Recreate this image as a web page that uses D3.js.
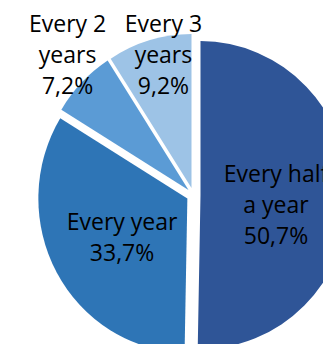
<!DOCTYPE html>
<html>
<head>
<meta charset="utf-8">
<script src="https://d3js.org/d3.v7.min.js"></script>
<style>
  body { margin: 0; background: #fff; overflow: hidden; }
  svg { display: block; }
</style>
</head>
<body>
<script>
// Values as printed on the chart
const categories = ["Every half a year", "Every year", "Every 2 years", "Every 3 years"];
const values = [50.7, 33.7, 7.2, 9.2];
const labelLines = [["Every half", "a year"], ["Every year"], ["Every 2", "years"], ["Every 3", "years"]];
const colors = ["#2F5597", "#2E75B6", "#5B9BD5", "#9DC3E6"];

// Layout
const width = 323, height = 344;
const cx = 193.5, cy = 195, radius = 149, explode = 7;
const yStretch = 154 / 149;   // pie in the picture is a touch taller than wide
const fontSize = 23, lineH = 31;
const labelRadius = [0.5, 0.5, 1.19, 0.88];    // fraction of radius
const labelNudge = [[1, 9], [0, 2], [6, -7], [9, -3]];

const svg = d3.select("body").append("svg")
  .attr("width", width)
  .attr("height", height);

const slices = svg.append("g")
  .attr("transform", `translate(${cx},${cy}) scale(1,${yStretch})`);
const labels = svg.append("g")
  .attr("transform", `translate(${cx},${cy})`);

const pie = d3.pie().sort(null).value(d => d);
const arcs = pie(values);

const arc = d3.arc().innerRadius(0).outerRadius(radius);

const fmt = v => d3.format(".1f")(v).replace(".", ",") + "%";

arcs.forEach((a, i) => {
  const mid = (a.startAngle + a.endAngle) / 2;
  const ox = Math.sin(mid) * explode, oy = -Math.cos(mid) * explode;

  slices.append("path")
    .attr("d", arc(a))
    .attr("transform", `translate(${ox},${oy})`)
    .attr("fill", colors[i]);

  // label block
  const lr = labelRadius[i] * radius + explode;
  const lx = Math.sin(mid) * lr + labelNudge[i][0];
  const ly = -Math.cos(mid) * lr * yStretch + labelNudge[i][1];
  const lines = labelLines[i].concat([fmt(values[i])]);
  const n = lines.length;

  const t = labels.append("text")
    .attr("text-anchor", "middle")
    .attr("font-family", "'Open Sans', sans-serif")
    .attr("font-size", fontSize)
    .attr("fill", "#000");

  lines.forEach((s, j) => {
    t.append("tspan")
      .attr("x", lx)
      .attr("y", ly + 8 + (j - (n - 1) / 2) * lineH)
      .text(s);
  });
});
</script>
</body>
</html>
